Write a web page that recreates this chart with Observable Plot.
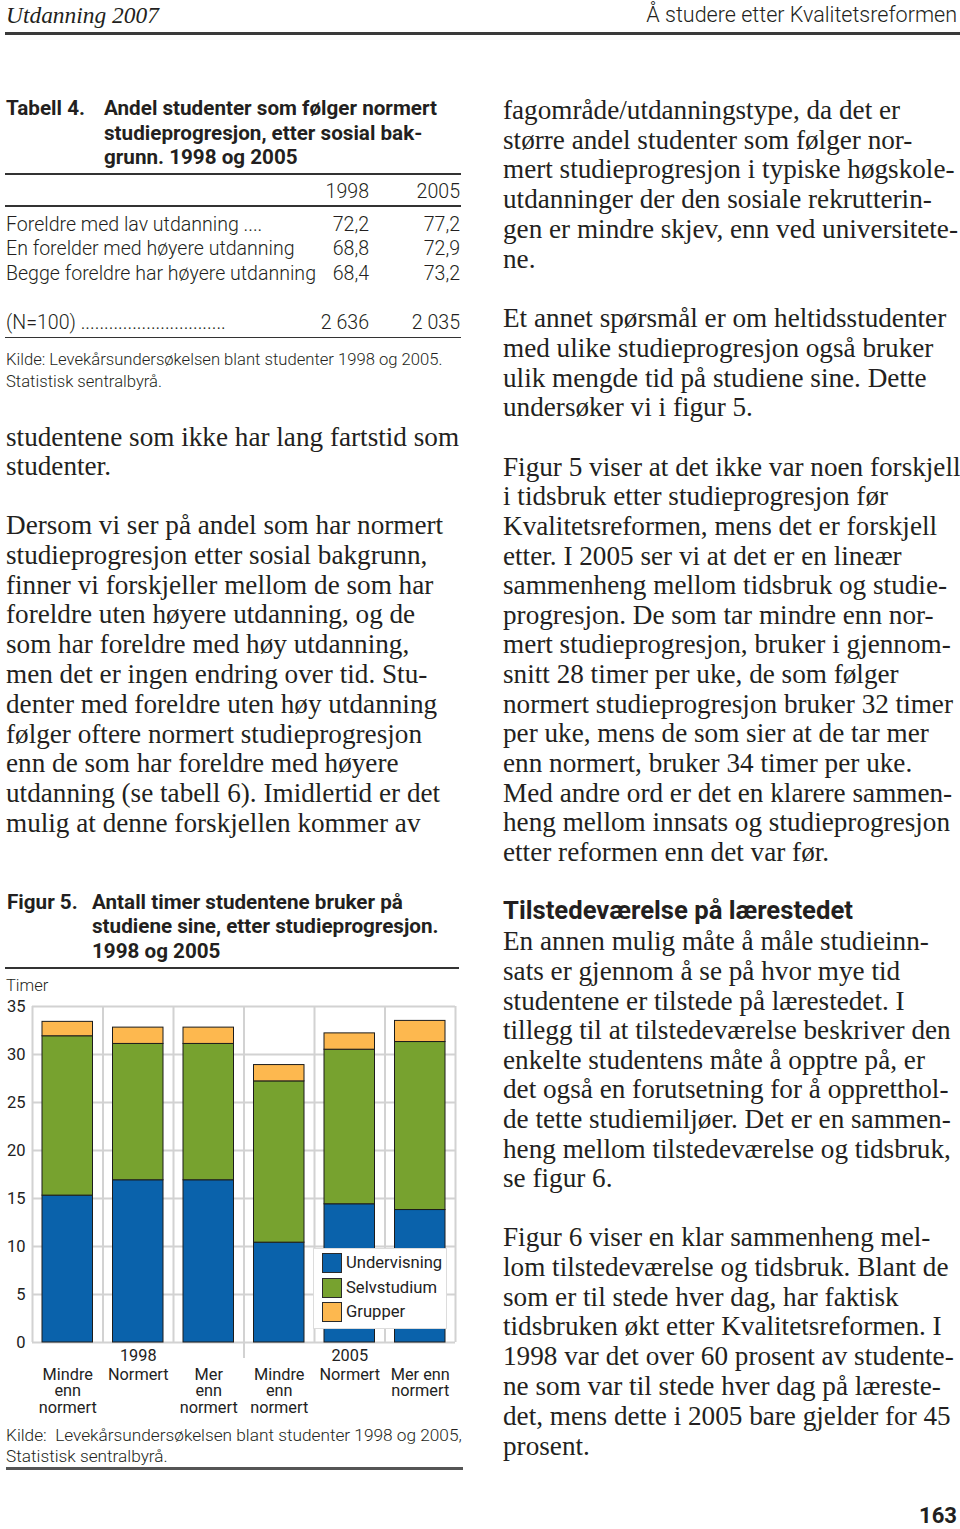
<!DOCTYPE html>
<html lang="no">
<head>
<meta charset="utf-8">
<script src="https://cdn.jsdelivr.net/npm/d3@7"></script>
<script src="https://cdn.jsdelivr.net/npm/@observablehq/plot@0.6"></script>
<style>
  html, body { margin: 0; padding: 0; background: #fff; }
  #page { position: relative; width: 960px; height: 1529px; overflow: hidden; background: #fff; color: #231f20; }
  .t { position: absolute; white-space: pre; }
  .rule { position: absolute; }
  #chart { position: absolute; left: 0; top: 990px; }
  #legend { position: absolute; left: 313px; top: 1248px; width: 134px; height: 81px; background: #fff; border: 1px solid #dcdcdc; box-sizing: border-box; }
  .sw { position: absolute; left: 8px; width: 20px; height: 20px; box-sizing: border-box; border: 1px solid #2a2a2a; }
  .lt { position: absolute; left: 32px; font-family: Roboto, sans-serif; font-size: 16.6px; line-height: 20px; color: #222; white-space: pre; }
</style>
</head>
<body>
<div id="page"><div id="chart"></div><div id="legend"></div></div>
<script>
// ---------- Chart data (Figur 5) ----------
const categories = ["Mindre\nenn\nnormert", "Normert", "Mer\nenn\nnormert", "Mindre\nenn\nnormert", "Normert", "Mer enn\nnormert"];
const years = ["1998", "1998", "1998", "2005", "2005", "2005"];
const series = ["Undervisning", "Selvstudium", "Grupper"];
const undervisning = [15.3, 16.9, 16.9, 10.4, 14.4, 13.8];
const selvstudium = [16.6, 14.2, 14.2, 16.8, 16.1, 17.5];
const grupper = [1.5, 1.7, 1.7, 1.7, 1.7, 2.2];
const yTicks = [0, 5, 10, 15, 20, 25, 30, 35];
const colors = ["#0a62ab", "#77a22f", "#fdb84f"];

// ---------- Table data (Tabell 4) ----------
const tableYears = ["1998", "2005"];
const tableRows = ["Foreldre med lav utdanning ....", "En forelder med høyere utdanning", "Begge foreldre har høyere utdanning"];
const table1998 = ["72,2", "68,8", "68,4"];
const table2005 = ["77,2", "72,9", "73,2"];
const tableN = ["2 636", "2 035"];

// ---------- Body text ----------
const leftParas = [
  ["studentene som ikke har lang fartstid som", "studenter."],
  ["Dersom vi ser på andel som har normert", "studieprogresjon etter sosial bakgrunn,", "finner vi forskjeller mellom de som har", "foreldre uten høyere utdanning, og de", "som har foreldre med høy utdanning,", "men det er ingen endring over tid. Stu-", "denter med foreldre uten høy utdanning", "følger oftere normert studieprogresjon", "enn de som har foreldre med høyere", "utdanning (se tabell 6). Imidlertid er det", "mulig at denne forskjellen kommer av"]
];
const rightParas = [
  ["fagområde/utdanningstype, da det er", "større andel studenter som følger nor-", "mert studieprogresjon i typiske høgskole-", "utdanninger der den sosiale rekrutterin-", "gen er mindre skjev, enn ved universitete-", "ne."],
  ["Et annet spørsmål er om heltidsstudenter", "med ulike studieprogresjon også bruker", "ulik mengde tid på studiene sine. Dette", "undersøker vi i figur 5."],
  ["Figur 5 viser at det ikke var noen forskjell", "i tidsbruk etter studieprogresjon før", "Kvalitetsreformen, mens det er forskjell", "etter. I 2005 ser vi at det er en lineær", "sammenheng mellom tidsbruk og studie-", "progresjon. De som tar mindre enn nor-", "mert studieprogresjon, bruker i gjennom-", "snitt 28 timer per uke, de som følger", "normert studieprogresjon bruker 32 timer", "per uke, mens de som sier at de tar mer", "enn normert, bruker 34 timer per uke.", "Med andre ord er det en klarere sammen-", "heng mellom innsats og studieprogresjon", "etter reformen enn det var før."],
  ["En annen mulig måte å måle studieinn-", "sats er gjennom å se på hvor mye tid", "studentene er tilstede på lærestedet. I", "tillegg til at tilstedeværelse beskriver den", "enkelte studentens måte å opptre på, er", "det også en forutsetning for å oppretthol-", "de tette studiemiljøer. Det er en sammen-", "heng mellom tilstedeværelse og tidsbruk,", "se figur 6."],
  ["Figur 6 viser en klar sammenheng mel-", "lom tilstedeværelse og tidsbruk. Blant de", "som er til stede hver dag, har faktisk", "tidsbruken økt etter Kvalitetsreformen. I", "1998 var det over 60 prosent av studente-", "ne som var til stede hver dag på læreste-", "det, mens dette i 2005 bare gjelder for 45", "prosent."]
];

// ---------- helpers ----------
const page = document.getElementById("page");
const ctx = document.createElement("canvas").getContext("2d");
const SERIF = "'Liberation Serif', serif";
const SANS = "Roboto, 'Open Sans', sans-serif";
function fit(pairs, family, weight = 400, style = "normal") {
  ctx.font = `${style} ${weight} 100px ${family}`;
  let m = 0, t = 0;
  for (const [s, w] of pairs) { m += ctx.measureText(s).width; t += w; }
  return 100 * t / m;
}
function put(text, x, yc, o) {
  const d = document.createElement("div");
  d.className = "t";
  d.textContent = text;
  const lh = o.lh || Math.round(o.size * 1.3);
  d.style.fontFamily = o.family;
  d.style.fontSize = o.size + "px";
  d.style.fontWeight = o.weight || 400;
  d.style.fontStyle = o.style || "normal";
  d.style.lineHeight = lh + "px";
  d.style.top = (yc - lh / 2) + "px";
  d.style.left = x + "px";
  if (o.color) d.style.color = o.color;
  if (o.align === "right") d.style.transform = "translateX(-100%)";
  page.appendChild(d);
}
function hrule(x1, x2, y, h, color) {
  const d = document.createElement("div");
  d.className = "rule";
  Object.assign(d.style, {left: x1 + "px", width: (x2 - x1) + "px", top: (y - h / 2) + "px", height: h + "px", background: color});
  page.appendChild(d);
}

// ---------- page header ----------
const hdrSerif = fit([["Utdanning 2007", 153]], SERIF, 400, "italic");
put("Utdanning 2007", 6, 15, {family: SERIF, size: hdrSerif, style: "italic"});
const hdrSans = fit([["Å studere etter Kvalitetsreformen", 311]], SANS, 300);
put("Å studere etter Kvalitetsreformen", 957, 15, {family: SANS, size: hdrSans, weight: 300, align: "right"});
hrule(5, 960, 33, 3, "#3a3a3a");

// ---------- Tabell 4 ----------
const boldSize = fit([["Andel studenter som følger normert", 335], ["studiene sine, etter studieprogresjon.", 345]], SANS, 700);
put("Tabell 4.", 6, 108.5, {family: SANS, size: boldSize, weight: 700});
["Andel studenter som følger normert", "studieprogresjon, etter sosial bak-", "grunn. 1998 og 2005"].forEach((s, i) => put(s, 104, 108.5 + i * 24.5, {family: SANS, size: boldSize, weight: 700}));
hrule(5, 461, 174, 1.6, "#333");
const tabSize = fit([["Begge foreldre har høyere utdanning", 310], ["En forelder med høyere utdanning", 289]], SANS, 300);
const colX = [369, 460];
tableYears.forEach((y, j) => put(y, colX[j], 191.5, {family: SANS, size: tabSize, weight: 300, align: "right"}));
hrule(5, 461, 206, 1.6, "#333");
tableRows.forEach((r, i) => {
  const yc = 224 + i * 24.5;
  put(r, 6, yc, {family: SANS, size: tabSize, weight: 300});
  put(table1998[i], colX[0], yc, {family: SANS, size: tabSize, weight: 300, align: "right"});
  put(table2005[i], colX[1], yc, {family: SANS, size: tabSize, weight: 300, align: "right"});
});
put("(N=100) ...............................", 6, 322.5, {family: SANS, size: tabSize, weight: 300});
tableN.forEach((n, j) => put(n, colX[j], 322.5, {family: SANS, size: tabSize, weight: 300, align: "right"}));
hrule(5, 461, 337.5, 1.6, "#333");
const kildeSize = fit([["Kilde: Levekårsundersøkelsen blant studenter 1998 og 2005.", 437]], SANS, 300);
put("Kilde: Levekårsundersøkelsen blant studenter 1998 og 2005.", 6, 360, {family: SANS, size: kildeSize, weight: 300});
put("Statistisk sentralbyrå.", 6, 381.5, {family: SANS, size: kildeSize, weight: 300});

// ---------- body text ----------
const bodySize = fit([
  ["Figur 5 viser at det ikke var noen forskjell", 451],
  ["studentene som ikke har lang fartstid som", 454],
  ["normert studieprogresjon bruker 32 timer", 453],
  ["Et annet spørsmål er om heltidsstudenter", 447]
], SERIF);
const step = 29.7;
function para(lines, x, y0, s = step) {
  lines.forEach((l, i) => put(l, x, y0 + i * s, {family: SERIF, size: bodySize, lh: 30}));
}
para(leftParas[0], 6, 436.5);
para(leftParas[1], 6, 525, 29.8);
para(rightParas[0], 503, 110);
para(rightParas[1], 503, 318.3);
para(rightParas[2], 503, 466.7, 29.62);
const h2Size = fit([["Tilstedeværelse på lærestedet", 350]], SANS, 700);
put("Tilstedeværelse på lærestedet", 503, 910, {family: SANS, size: h2Size, weight: 700});
para(rightParas[3], 503, 941.3, 29.6);
para(rightParas[4], 503, 1236.7, 29.9);
const pnSize = fit([["163", 38]], SANS, 700);
put("163", 957, 1515, {family: SANS, size: pnSize, weight: 700, align: "right"});

// ---------- Figur 5 header ----------
put("Figur 5.", 7, 902, {family: SANS, size: boldSize, weight: 700});
["Antall timer studentene bruker på", "studiene sine, etter studieprogresjon.", "1998 og 2005"].forEach((s, i) => put(s, 92, 902 + i * 24.8, {family: SANS, size: boldSize, weight: 700}));
hrule(5, 459, 968, 1.6, "#333");
put("Timer", 6, 985, {family: SANS, size: 16.5, weight: 300});

// ---------- chart ----------
const rows = categories.flatMap((c, i) => [undervisning, selvstudium, grupper].map((vals, k) => ({i, series: series[k], value: vals[i]})));
const catData = categories.map((label, i) => ({i, label}));
const groups = Array.from(d3.group(years.map((y, i) => ({y, i})), d => d.y), ([year, v]) => ({year, start: v[0].i, mid: (v[0].i + v[v.length - 1].i + 1) / 2}));
const grid = "#d2d2d2";

const chart = Plot.plot({
  width: 470,
  height: 432,
  marginLeft: 32,
  marginRight: 15,
  marginTop: 16,
  marginBottom: 80,
  style: {fontFamily: "Roboto, sans-serif", fontSize: "16px", color: "#222", background: "transparent", overflow: "visible"},
  x: {domain: [0, categories.length], axis: null},
  y: {domain: [0, 35], axis: null},
  color: {domain: series, range: colors},
  marks: [
    Plot.ruleY(yTicks, {stroke: grid, strokeWidth: 2}),
    Plot.ruleX(d3.range(categories.length + 1), {stroke: grid, strokeWidth: 2}),
    Plot.ruleX(groups.slice(1), {x: "start", stroke: grid, strokeWidth: 2, insetBottom: -16}),
    Plot.rectY(rows, {x1: "i", x2: d => d.i + 1, y: "value", fill: "series", stroke: "#1c1c1c", strokeWidth: 1, insetLeft: 10, insetRight: 10}),
    Plot.axisY(yTicks, {tickSize: 0, tickPadding: 7, label: null, fontSize: 16.5, fill: "#222"}),
    Plot.text(catData, {x: d => d.i + 0.5, text: "label", frameAnchor: "bottom", lineAnchor: "top", dy: 25, lineHeight: 1.04, fontSize: 16.3, fill: "#222"}),
    Plot.text(groups, {x: "mid", text: "year", frameAnchor: "bottom", lineAnchor: "middle", dy: 13, fontSize: 16.3, fill: "#222"})
  ]
});
document.getElementById("chart").appendChild(chart);

// legend (HTML overlay)
const legend = document.getElementById("legend");
series.forEach((s, k) => {
  const sw = document.createElement("div");
  sw.className = "sw";
  sw.style.top = (4 + k * 24.7) + "px";
  sw.style.background = colors[k];
  legend.appendChild(sw);
  const lt = document.createElement("div");
  lt.className = "lt";
  lt.style.top = (4 + k * 24.7) + "px";
  lt.textContent = s;
  legend.appendChild(lt);
});

// chart source
const kilde2 = fit([["Kilde:  Levekårsundersøkelsen blant studenter 1998 og 2005,", 456]], SANS, 300);
put("Kilde:  Levekårsundersøkelsen blant studenter 1998 og 2005,", 6, 1435, {family: SANS, size: kilde2, weight: 300});
put("Statistisk sentralbyrå.", 6, 1456, {family: SANS, size: kilde2, weight: 300});
hrule(6, 463, 1468.5, 2.5, "#555");
</script>
</body>
</html>
